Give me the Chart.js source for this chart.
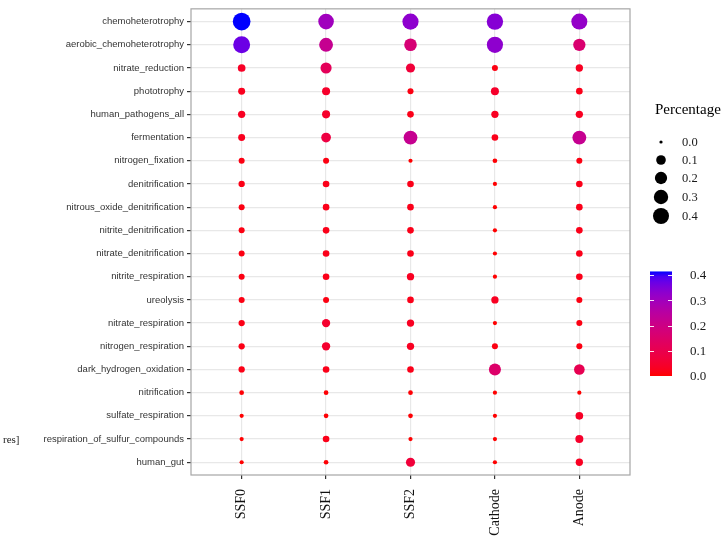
<!DOCTYPE html>
<html><head><meta charset="utf-8">
<script src="https://cdn.jsdelivr.net/npm/chart.js@4.4.0/dist/chart.umd.min.js"></script>
<style>html,body{margin:0;padding:0;background:#fff;}#wrap{width:724px;height:538px;position:relative;}</style>
</head><body><div id="wrap"><canvas id="c" width="724" height="538"></canvas></div>
<script>
// ---- data ----
const functions = [
  'chemoheterotrophy','aerobic_chemoheterotrophy','nitrate_reduction','phototrophy',
  'human_pathogens_all','fermentation','nitrogen_fixation','denitrification',
  'nitrous_oxide_denitrification','nitrite_denitrification','nitrate_denitrification',
  'nitrite_respiration','ureolysis','nitrate_respiration','nitrogen_respiration',
  'dark_hydrogen_oxidation','nitrification','sulfate_respiration',
  'respiration_of_sulfur_compounds','human_gut'
];
const samples = ['SSF0','SSF1','SSF2','Cathode','Anode'];
const SSF0    = [0.414,0.37,0.036,0.025,0.030,0.025,0.013,0.016,0.013,0.013,0.013,0.013,0.013,0.016,0.016,0.016,0.003,0.001,0.001,0.001];
const SSF1    = [0.30,0.22,0.12,0.042,0.042,0.08,0.013,0.02,0.02,0.02,0.02,0.02,0.013,0.047,0.047,0.02,0.003,0.003,0.02,0.003];
const SSF2    = [0.33,0.17,0.065,0.013,0.02,0.22,0.001,0.02,0.02,0.02,0.02,0.03,0.02,0.03,0.03,0.02,0.003,0.003,0.001,0.065];
const Cathode = [0.34,0.33,0.013,0.042,0.03,0.02,0.003,0.001,0.001,0.001,0.001,0.001,0.03,0.001,0.013,0.15,0.001,0.001,0.001,0.001];
const Anode   = [0.32,0.16,0.03,0.02,0.03,0.22,0.013,0.02,0.02,0.02,0.02,0.02,0.013,0.013,0.013,0.106,0.001,0.036,0.042,0.03];
const sampleValues = [SSF0, SSF1, SSF2, Cathode, Anode];
const legendTitle = 'Percentage';
const sizeBreaks = [0.0, 0.1, 0.2, 0.3, 0.4];
const colorBreaks = [0.0, 0.1, 0.2, 0.3, 0.4];

// ---- colour (Lab interpolation red -> blue) ----
function toLin(c){c/=255;return c<=0.04045?c/12.92:Math.pow((c+0.055)/1.055,2.4);}
function fromLin(c){c=c<=0.0031308?12.92*c:1.055*Math.pow(c,1/2.4)-0.055;return Math.round(Math.min(1,Math.max(0,c))*255);}
function rgb2lab(r,g,b){
  r=toLin(r);g=toLin(g);b=toLin(b);
  let X=(0.4124*r+0.3576*g+0.1805*b)/0.95047,Y=(0.2126*r+0.7152*g+0.0722*b),Z=(0.0193*r+0.1192*g+0.9505*b)/1.08883;
  const f=t=>t>0.008856?Math.cbrt(t):7.787*t+16/116;
  const fx=f(X),fy=f(Y),fz=f(Z);
  return [116*fy-16,500*(fx-fy),200*(fy-fz)];
}
function lab2rgb(L,a,b){
  const fy=(L+16)/116,fx=fy+a/500,fz=fy-b/200;
  const fi=t=>{const t3=t*t*t;return t3>0.008856?t3:(t-16/116)/7.787;};
  const X=fi(fx)*0.95047,Y=fi(fy),Z=fi(fz)*1.08883;
  const r=3.2406*X-1.5372*Y-0.4986*Z,g=-0.9689*X+1.8758*Y+0.0415*Z,bb=0.0557*X-0.2040*Y+1.0570*Z;
  return 'rgb('+fromLin(r)+','+fromLin(g)+','+fromLin(bb)+')';
}
const labLow=rgb2lab(255,0,0), labHigh=rgb2lab(0,0,255);
const vMax = Math.max(...sampleValues.flat());
function colorOf(v){
  const t=Math.min(1,Math.max(0,v/vMax));
  return lab2rgb(labLow[0]+(labHigh[0]-labLow[0])*t,labLow[1]+(labHigh[1]-labLow[1])*t,labLow[2]+(labHigh[2]-labLow[2])*t);
}
function radiusOf(v){ return (3.5 + 14.3*Math.sqrt(Math.max(v,0)/0.42))/2; }

// ---- datasets ----
const datasets = samples.map((s,si)=>({
  label:s,
  data: functions.map((f,fi)=>({x:si,y:fi,v:sampleValues[si][fi]})),
  pointRadius: ctx=>radiusOf(ctx.raw.v),
  pointHoverRadius: ctx=>radiusOf(ctx.raw.v),
  pointBackgroundColor: ctx=>colorOf(ctx.raw.v),
  pointBorderWidth:0,
  pointHoverBorderWidth:0
}));

const decor = {
  id:'decor',
  afterDatasetsDraw(chart){
    const c=chart.ctx, a=chart.chartArea;
    c.save();
    c.strokeStyle='#A6A6A6'; c.lineWidth=1.2;
    c.strokeRect(a.left,a.top,a.right-a.left,a.bottom-a.top);
    c.restore();
  },
  afterDraw(chart){
    const c=chart.ctx;
    c.save();
    // size legend
    c.fillStyle='#000';
    c.font='15px "Liberation Serif"';
    c.textBaseline='middle'; c.textAlign='left';
    c.fillText(legendTitle,655,110);
    const ys=[142,160,178,197,216];
    sizeBreaks.forEach((v,i)=>{
      c.beginPath(); c.arc(661,ys[i],radiusOf(v)*0.92,0,Math.PI*2); c.fillStyle='#000'; c.fill();
      c.fillStyle='#1a1a1a'; c.font='12.5px "Liberation Serif"';
      c.fillText(v.toFixed(1),682,ys[i]+1);
    });
    // colour bar
    const y0=376, k=252.5, x0=650, x1=672;
    const yTop=y0-vMax*k;
    const g=c.createLinearGradient(0,y0,0,yTop);
    for(let i=0;i<=20;i++){ g.addColorStop(i/20,colorOf(vMax*i/20)); }
    c.fillStyle=g; c.fillRect(x0,yTop,x1-x0,y0-yTop);
    c.strokeStyle='rgba(255,255,255,0.9)'; c.lineWidth=1;
    colorBreaks.forEach(v=>{
      const y=Math.round(y0-v*k)+0.5;
      c.beginPath(); c.moveTo(x0,y); c.lineTo(x0+4,y); c.moveTo(x1-4,y); c.lineTo(x1,y); c.stroke();
      c.fillStyle='#1a1a1a'; c.font='13px "Liberation Serif"';
      c.fillText(v.toFixed(1),690,y0-v*k+1);
    });
    // clipped stray label at left
    c.fillStyle='#222'; c.font='11px "Liberation Serif"';
    c.fillText('res]',3,440);
    c.restore();
  }
};

new Chart(document.getElementById('c'),{
  type:'scatter',
  data:{datasets},
  options:{
    responsive:false, animation:false, events:[],
    layout:{padding:{left:0,top:3,right:94,bottom:0}},
    plugins:{legend:{display:false},tooltip:{enabled:false}},
    scales:{
      x:{
        type:'linear', min:-0.6, max:4.6,
        afterBuildTicks:s=>{s.ticks=samples.map((_,i)=>({value:i}));},
        afterFit:s=>{s.height=63;s.paddingLeft=0;s.paddingRight=0;},
        grid:{color:'#E8E8E8',lineWidth:1.2,tickColor:'#333',tickLength:4,drawTicks:true},
        border:{display:false},
        ticks:{autoSkip:false,minRotation:90,maxRotation:90,padding:10,color:'#111',
          font:{family:'"Liberation Serif"',size:14},
          callback:v=>samples[v]}
      },
      y:{
        type:'linear', min:-0.55, max:19.55, reverse:true,
        afterBuildTicks:s=>{s.ticks=functions.map((_,i)=>({value:i}));},
        afterFit:s=>{s.width=191;s.paddingTop=0;s.paddingBottom=0;},
        grid:{color:'#E8E8E8',lineWidth:1.2,tickColor:'#333',tickLength:4,drawTicks:true},
        border:{display:false},
        ticks:{autoSkip:false,padding:3,color:'#333',
          font:{family:'"Liberation Sans"',size:9.5},
          callback:v=>functions[v]}
      }
    }
  },
  plugins:[decor]
});
</script></body></html>
